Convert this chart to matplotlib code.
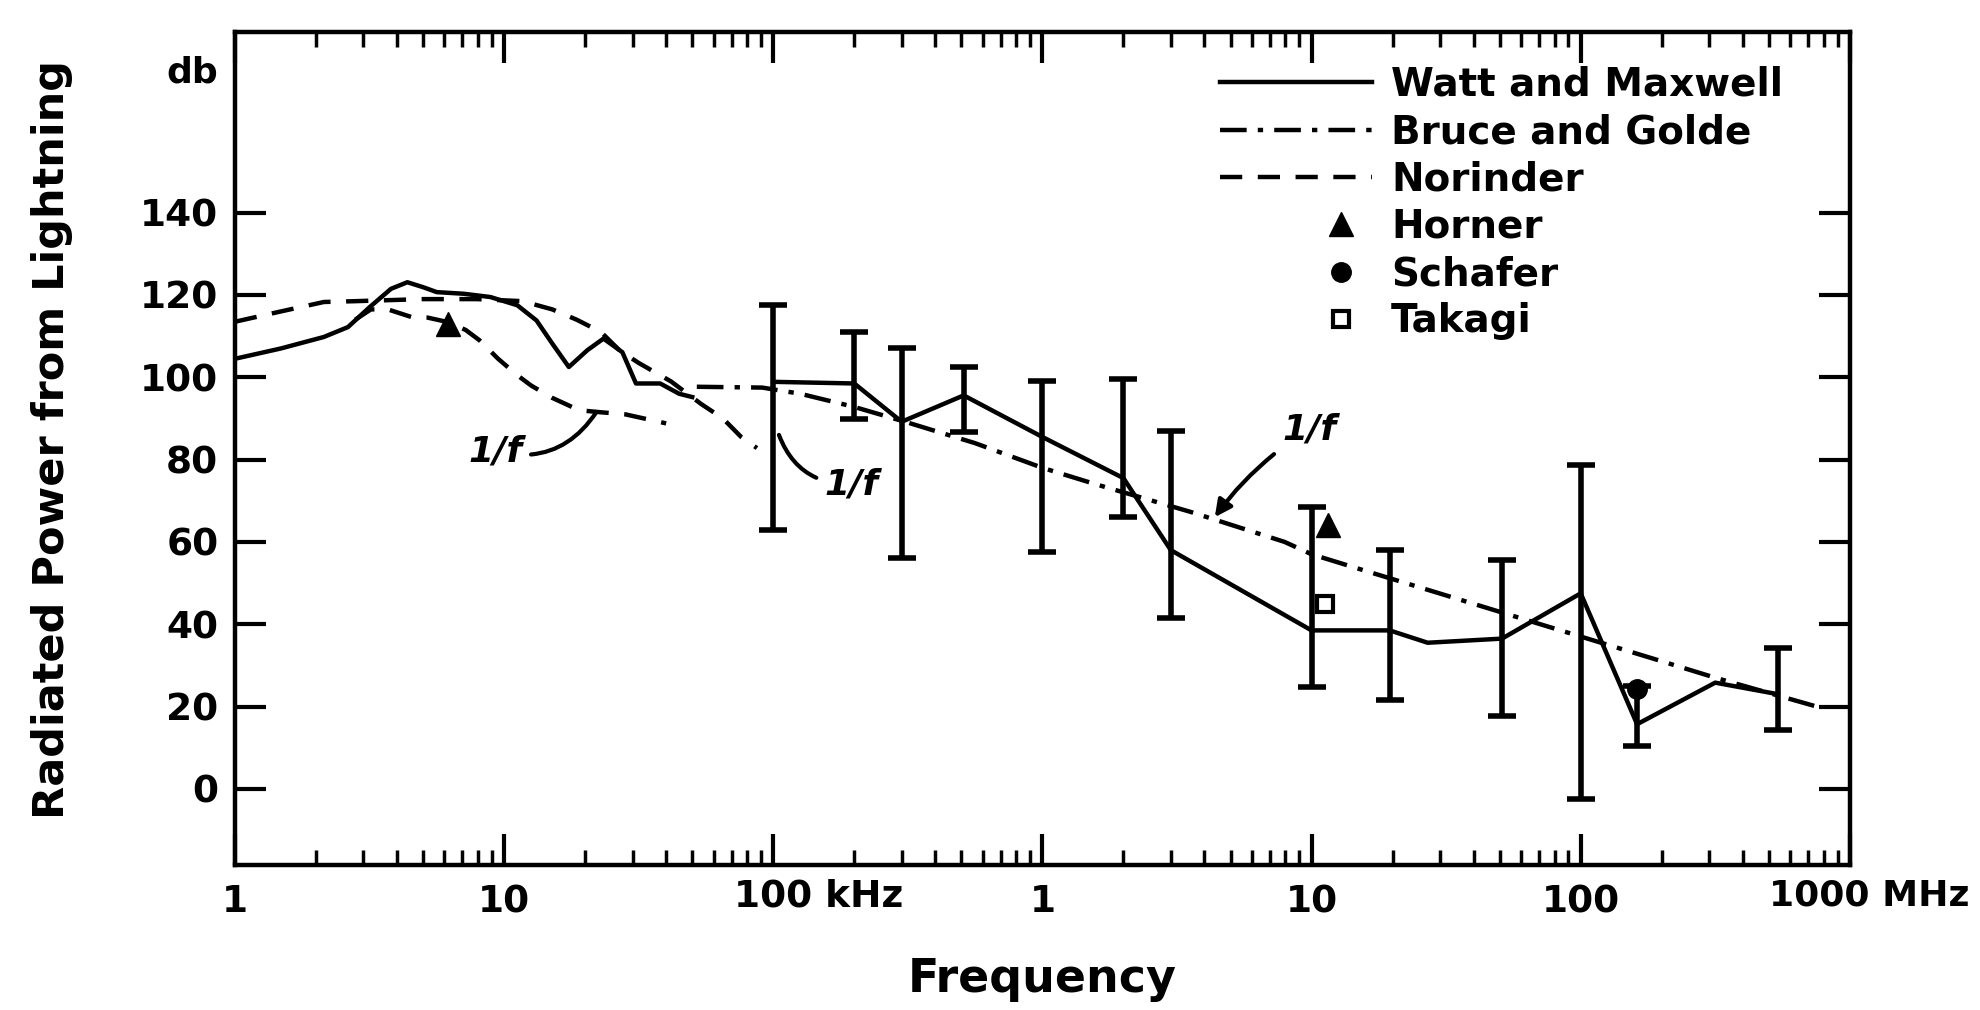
import numpy as np
import matplotlib
matplotlib.use("Agg")
import matplotlib.pyplot as plt
from matplotlib.ticker import LogLocator, NullFormatter
from matplotlib.legend_handler import HandlerLine2D

plt.rcParams['font.family'] = ['DejaVu Sans']
plt.rcParams['font.weight'] = 'bold'
plt.rcParams['axes.labelweight'] = 'bold'

# frequencies in kHz, power in db
watt_f1 = [1.0, 1.48, 2.14, 2.63, 3.16, 3.8, 4.37, 5.0, 5.62, 7.08, 8.9, 11.2, 13.2,
           15.1, 17.4, 20.4, 23.4, 27.5, 30.9, 38, 44.7, 50]
watt_db1 = [104.5, 107, 109.8, 112.2, 117, 121.5, 123.1, 121.9, 120.7, 120.3, 119.5,
            117.5, 113.8, 108.2, 102.5, 106.6, 109.4, 106.1, 98.5, 98.5, 96, 95.2]
watt_f2 = [100, 200, 300, 510, 1000, 2000, 3000, 10000, 19500, 27000, 51000,
           100000, 162000, 316000, 540000]
watt_db2 = [98.9, 98.5, 89.2, 95.6, 85.5, 75.5, 58, 38.5, 38.5, 35.5, 36.5,
            47.5, 15.7, 25.8, 23]

bar_f = [100, 200, 300, 510, 1000, 2000, 3000, 10000, 19500, 51000, 100000, 162000, 540000]
bar_hi = [117.5, 111, 107, 102.5, 99, 99.5, 87, 68.5, 58, 55.5, 78.6, 25, 34.2]
bar_lo = [63, 89.8, 56, 86.6, 57.5, 66, 41.5, 24.7, 21.7, 17.8, -2.4, 10.5, 14.4]

norinder_f = [1.0, 1.48, 2.14, 2.8, 5.0, 7.9, 11.7, 15.1, 18.6, 22.9, 26.9, 31.6,
              41.7, 54, 65, 76, 87]
norinder_db = [113.5, 116, 118.3, 118.5, 119, 119, 118.5, 116.5, 114, 111, 106.5,
               103.5, 99, 93.5, 90, 85.5, 82.8]

# lower dashed curve (1/f near 10 kHz)
low_f = [2.8, 3.2, 3.7, 4.6, 5.2, 6.2, 7.2, 8.1, 9.5, 11.2, 12.6, 15.1, 19, 22.9, 28.2, 40]
low_db = [114, 116.5, 116.5, 114.5, 114.5, 113.4, 111.5, 109, 104.5, 100.5, 98, 95,
          92, 91.5, 91, 88.8]

bruce_f = [52, 91, 126, 200, 316, 562, 1000, 1580, 3550, 7940, 10000, 15800, 25100,
           39800, 79400, 200000, 316000, 800000]
bruce_db = [97.7, 97.5, 96, 92.8, 89, 84, 78, 74, 67.3, 60, 57, 53, 49, 45, 39, 31,
            27, 19.5]

horner_f = [6.2, 11500]
horner_db = [113, 64]
schafer_f = [162000]
schafer_db = [24.3]
takagi_f = [11200]
takagi_db = [45]

xticks = [1, 10, 100, 1000, 10000, 100000, 1000000]
xticklabels = ['1', '10', '', '1', '10', '100', '']
yticks = [0, 20, 40, 60, 80, 100, 120, 140]


class MarkerRight(HandlerLine2D):
    '''marker drawn near the right end of the handle'''
    def get_xdata(self, legend, xdescent, ydescent, width, height, fontsize):
        x = -xdescent + 0.8 * width
        return np.array([x, x]), np.array([x])


fig = plt.figure(figsize=(19.81, 10.10), dpi=100)
ax = fig.add_axes([0.1186, 0.1436, 0.8152, 0.8251])

lw = 3.2
l_watt, = ax.plot(watt_f1, watt_db1, color='k', lw=lw, label='Watt and Maxwell')
ax.plot(watt_f2, watt_db2, color='k', lw=lw)
l_bruce, = ax.plot(bruce_f, bruce_db, color='k', lw=lw,
                   ls=(0, (6, 2.5, 1.2, 2.5)), label='Bruce and Golde')
l_nor, = ax.plot(norinder_f, norinder_db, color='k', lw=lw, ls=(0, (5, 3.5)),
                 label='Norinder')
ax.plot(low_f, low_db, color='k', lw=lw, ls=(0, (5, 3.5)))

mids = (np.array(bar_hi) + np.array(bar_lo)) / 2
halfs = (np.array(bar_hi) - np.array(bar_lo)) / 2
ax.errorbar(bar_f, mids, yerr=halfs, fmt='none', ecolor='k', elinewidth=4,
            capsize=10, capthick=4)

l_hor, = ax.plot(horner_f, horner_db, ls='none', marker='^', color='k', ms=17,
                 label='Horner')
l_sch, = ax.plot(schafer_f, schafer_db, ls='none', marker='o', color='k', ms=14,
                 label='Schafer')
l_tak, = ax.plot(takagi_f, takagi_db, ls='none', marker='s', mfc='white', mec='k',
                 mew=3, ms=11, label='Takagi')

# 1/f notes
ax.annotate('1/f', xy=(22, 91.5), xytext=(9.3, 82), fontsize=26, fontstyle='italic',
            ha='center', va='center',
            arrowprops=dict(arrowstyle='-', lw=3, color='k',
                            connectionstyle='arc3,rad=0.35', shrinkA=4, shrinkB=0))
ax.annotate('1/f', xy=(105, 86), xytext=(195, 74), fontsize=26, fontstyle='italic',
            ha='center', va='center',
            arrowprops=dict(arrowstyle='-', lw=3, color='k',
                            connectionstyle='arc3,rad=-0.35', shrinkA=4, shrinkB=0))
ax.annotate('1/f', xy=(4370, 66), xytext=(9800, 87.4), fontsize=26, fontstyle='italic',
            ha='center', va='center',
            arrowprops=dict(arrowstyle='-|>', lw=3, color='k', mutation_scale=25,
                            connectionstyle='arc3,rad=0.1', shrinkA=6, shrinkB=0))

ax.set_xscale('log')
ax.set_xlim(1, 1e6)
ax.set_ylim(-18.5, 184)

ax.set_xticks(xticks)
ax.set_xticklabels(xticklabels)
ax.xaxis.set_minor_locator(LogLocator(base=10, subs=np.arange(2, 10)))
ax.xaxis.set_minor_formatter(NullFormatter())
ax.set_yticks(yticks)

ax.tick_params(axis='both', which='both', direction='in', top=True, right=True,
               labelsize=27)
ax.tick_params(axis='both', which='major', length=22, width=3)
ax.tick_params(axis='x', which='minor', length=11, width=2.5)
ax.tick_params(axis='y', which='major', pad=12)
ax.tick_params(axis='x', which='major', pad=14)

for s in ax.spines.values():
    s.set_linewidth(3.2)

# labels with units next to the numbers
ax.annotate('100 kHz', xy=(100, 0), xycoords=('data', 'axes fraction'),
            xytext=(-28, -10), textcoords='offset points', ha='left', va='top',
            fontsize=27)
ax.annotate('1000 MHz', xy=(1e6, 0), xycoords=('data', 'axes fraction'),
            xytext=(-58, -10), textcoords='offset points', ha='left', va='top',
            fontsize=26)
ax.annotate('db', xy=(0, 174), xycoords=('axes fraction', 'data'),
            xytext=(-12, 0), textcoords='offset points', ha='right', va='center',
            fontsize=26)

ax.set_xlabel('Frequency', fontsize=33)
ax.xaxis.set_label_coords(0.5, -0.11)
ax.set_ylabel('Radiated Power from Lightning', fontsize=31)
ax.yaxis.set_label_coords(-0.100, 0.51)

ax.legend(handles=[l_watt, l_bruce, l_nor, l_hor, l_sch, l_tak],
          handler_map={l_hor: MarkerRight(), l_sch: MarkerRight(), l_tak: MarkerRight()},
          loc='upper left', bbox_to_anchor=(0.61, 0.959), frameon=False,
          borderpad=0, borderaxespad=0, fontsize=28, handlelength=3.9,
          handletextpad=0.5, labelspacing=0.24, numpoints=1)

fig.savefig('out.png', dpi=100)
